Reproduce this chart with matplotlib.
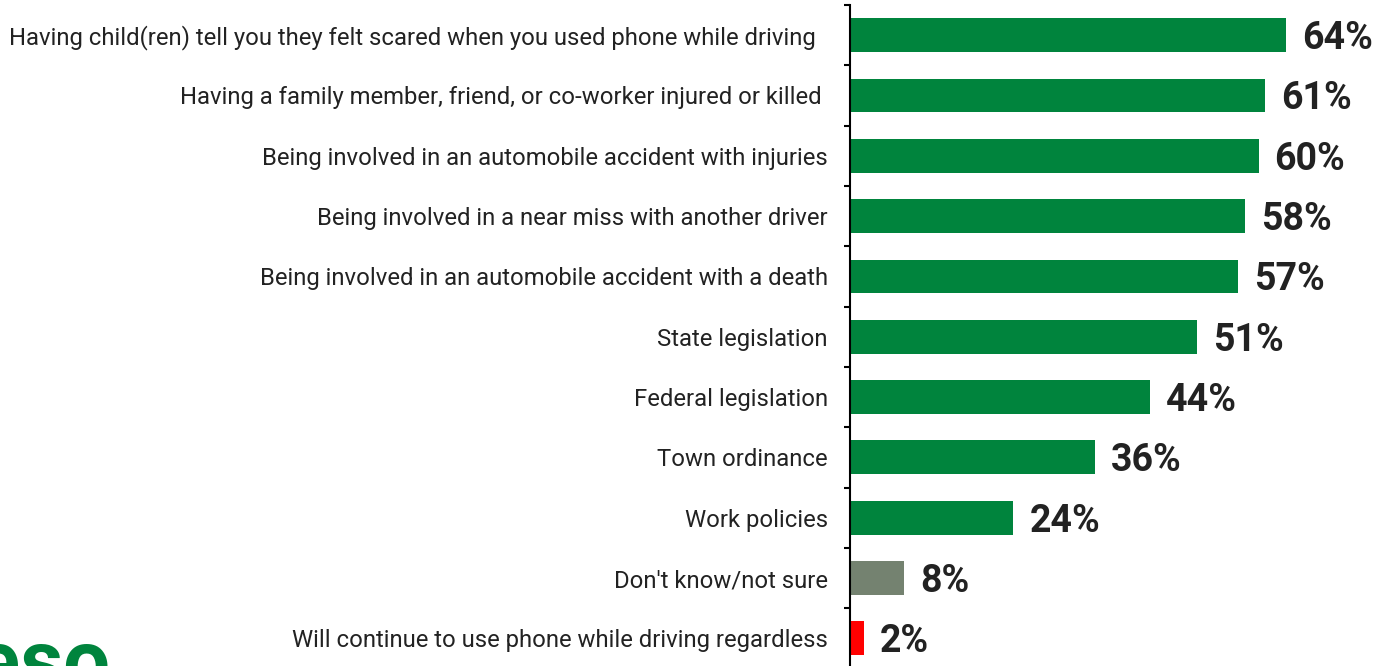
import matplotlib.pyplot as plt

# survey answers, top to bottom
labels = [
    "Having child(ren) tell you they felt scared when you used phone while driving  ",
    "Having a family member, friend, or co-worker injured or killed ",
    "Being involved in an automobile accident with injuries",
    "Being involved in a near miss with another driver",
    "Being involved in an automobile accident with a death",
    "State legislation",
    "Federal legislation",
    "Town ordinance",
    "Work policies",
    "Don't know/not sure",
    "Will continue to use phone while driving regardless",
]
values = [64, 61, 60, 58, 57, 51, 44, 36, 24, 8, 2]
colors = ["#00843D"] * 9 + ["#748270", "#FF0000"]

plt.rcParams['font.family'] = ['Roboto', 'DejaVu Sans']

fig = plt.figure(figsize=(13.77, 6.66), dpi=100)
ax = fig.add_axes([850 / 1377, -2.5 / 666, 1 - 850 / 1377, 663.5 / 666])

y = list(range(len(values)))
ax.barh(y, values, height=0.56, color=colors)
ax.set_ylim(len(values) - 0.5, -0.5)
ax.set_xlim(0, 527 / 6.81)

for yi, v in zip(y, values):
    ax.annotate(f"{v}%", (v, yi), xytext=(11.5, -2.5), textcoords="offset points",
                ha="left", va="center", fontsize=27, fontweight="bold", color="#222222")

ax.set_yticks([i + 0.5 for i in range(-1, len(values))], minor=False)
ax.set_yticklabels([])
ax.set_yticks(y, minor=True)
ax.set_yticklabels(labels, minor=True, fontsize=17.2, color="#222222")
ax.tick_params(axis="y", which="major", length=4.5, width=1.5, direction="out")
ax.tick_params(axis="y", which="minor", length=0, pad=16)
ax.set_xticks([])

for s in ["top", "right", "bottom"]:
    ax.spines[s].set_visible(False)
ax.spines["left"].set_linewidth(1.5)

# logo text, partly cut off at the bottom
fig.text(-0.018, -0.06, "eso", fontsize=60, fontweight="bold", color="#00843D",
         ha="left", va="bottom")

fig.savefig("out.png", dpi=100)
